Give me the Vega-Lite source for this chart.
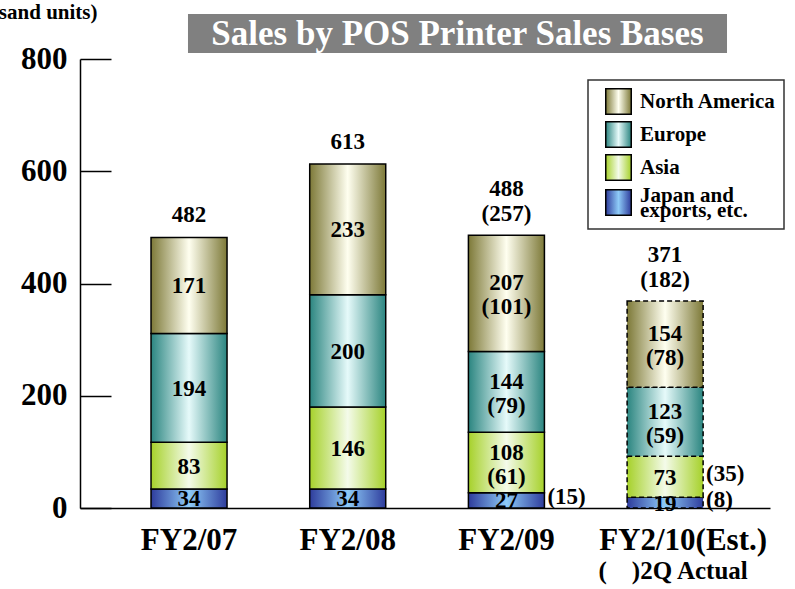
{
  "$schema": "https://vega.github.io/schema/vega-lite/v6.json",
  "width": 690,
  "height": 449,
  "autosize": "none",
  "padding": {"left": 80, "top": 59, "right": 25, "bottom": 81},
  "background": "white",
  "config": {
    "view": {"stroke": null},
    "font": "Liberation Serif",
    "axisY": {
      "titleAngle": 0,
      "titleAlign": "right",
      "titleBaseline": "middle",
      "titleX": 17,
      "titleY": -47,
      "titleFont": "Liberation Serif",
      "titleFontSize": 21,
      "titleFontWeight": "bold",
      "titleColor": "black",
      "labelFont": "Liberation Serif",
      "labelFontSize": 31,
      "labelFontWeight": "bold",
      "labelColor": "black",
      "labelOverlap": false,
      "domainColor": "black",
      "domainWidth": 1.5,
      "tickColor": "black",
      "tickWidth": 1.5,
      "tickSize": -31,
      "labelPadding": 44,
      "grid": false
    }
  },
  "layer": [
    {
      "data": {
        "values": [
          {"year": "FY2/07", "region": "Japan and exports, etc.", "ord": 1, "value": 34, "label": "34", "sub": "", "note": ""},
          {"year": "FY2/07", "region": "Asia", "ord": 2, "value": 83, "label": "83", "sub": "", "note": ""},
          {"year": "FY2/07", "region": "Europe", "ord": 3, "value": 194, "label": "194", "sub": "", "note": ""},
          {"year": "FY2/07", "region": "North America", "ord": 4, "value": 171, "label": "171", "sub": "", "note": ""},
          {"year": "FY2/08", "region": "Japan and exports, etc.", "ord": 1, "value": 34, "label": "34", "sub": "", "note": ""},
          {"year": "FY2/08", "region": "Asia", "ord": 2, "value": 146, "label": "146", "sub": "", "note": ""},
          {"year": "FY2/08", "region": "Europe", "ord": 3, "value": 200, "label": "200", "sub": "", "note": ""},
          {"year": "FY2/08", "region": "North America", "ord": 4, "value": 233, "label": "233", "sub": "", "note": ""},
          {"year": "FY2/09", "region": "Japan and exports, etc.", "ord": 1, "value": 27, "label": "27", "sub": "", "note": "(15)"},
          {"year": "FY2/09", "region": "Asia", "ord": 2, "value": 108, "label": "108", "sub": "(61)", "note": ""},
          {"year": "FY2/09", "region": "Europe", "ord": 3, "value": 144, "label": "144", "sub": "(79)", "note": ""},
          {"year": "FY2/09", "region": "North America", "ord": 4, "value": 207, "label": "207", "sub": "(101)", "note": ""},
          {"year": "FY2/10(Est.)", "region": "Japan and exports, etc.", "ord": 1, "value": 19, "label": "19", "sub": "", "note": "(8)"},
          {"year": "FY2/10(Est.)", "region": "Asia", "ord": 2, "value": 73, "label": "73", "sub": "", "note": "(35)"},
          {"year": "FY2/10(Est.)", "region": "Europe", "ord": 3, "value": 123, "label": "123", "sub": "(59)", "note": ""},
          {"year": "FY2/10(Est.)", "region": "North America", "ord": 4, "value": 154, "label": "154", "sub": "(78)", "note": ""}
        ]
      },
      "encoding": {
        "x": {
          "field": "year",
          "type": "nominal",
          "sort": null,
          "scale": {
            "domain": ["FY2/07", "FY2/08", "FY2/09", "FY2/10(Est.)"],
            "paddingInner": 0.521,
            "paddingOuter": 0.4345,
            "align": 0.515
          },
          "axis": {
            "title": "(　)2Q Actual",
            "titleX": 518,
            "titleY": 62,
            "titleAlign": "left",
            "titleBaseline": "middle",
            "titleFont": "Liberation Serif",
            "titleFontSize": 25,
            "titleFontWeight": "bold",
            "titleColor": "black",
            "labelFont": "Liberation Serif",
            "labelFontSize": 31,
            "labelFontWeight": "bold",
            "labelColor": "black",
            "labelAngle": 0,
            "labelPadding": 17,
            "labelLimit": 0,
            "labelOffset": {"condition": {"test": "datum.value === 'FY2/10(Est.)'", "value": 18}, "value": 0},
            "ticks": false,
            "domainColor": "black",
            "domainWidth": 1.5
          }
        }
      },
      "layer": [
        {
          "mark": {"type": "bar", "stroke": "black", "strokeWidth": 1.5},
          "encoding": {
            "y": {
              "field": "value",
              "type": "quantitative",
              "stack": "zero",
              "scale": {"domain": [0, 800], "nice": false},
              "axis": {"title": "(Thousand units)", "values": [0, 200, 400, 600, 800]}
            },
            "color": {
              "field": "region",
              "type": "nominal",
              "scale": {
                "domain": ["North America", "Europe", "Asia", "Japan and exports, etc."],
                "range": [
                  {"expr": "{gradient: 'linear', x1: 0, y1: 0, x2: 1, y2: 0, stops: [{offset: 0, color: '#7d7938'}, {offset: 0.5, color: '#fffff0'}, {offset: 1, color: '#7d7938'}]}"},
                  {"expr": "{gradient: 'linear', x1: 0, y1: 0, x2: 1, y2: 0, stops: [{offset: 0, color: '#2b8580'}, {offset: 0.5, color: '#e6fafa'}, {offset: 1, color: '#2b8580'}]}"},
                  {"expr": "{gradient: 'linear', x1: 0, y1: 0, x2: 1, y2: 0, stops: [{offset: 0, color: '#a6d12a'}, {offset: 0.5, color: '#f4fbea'}, {offset: 1, color: '#a6d12a'}]}"},
                  {"expr": "{gradient: 'linear', x1: 0, y1: 0, x2: 1, y2: 0, stops: [{offset: 0, color: '#2e3c9c'}, {offset: 0.5, color: '#8ecbf8'}, {offset: 1, color: '#2e3c9c'}]}"}
                ]
              },
              "legend": {
                "orient": "none",
                "legendX": 508,
                "legendY": 21,
                "title": null,
                "fillColor": "white",
                "strokeColor": "#333333",
                "padding": 8,
                "gridAlign": "none",
                "symbolType": "square",
                "symbolSize": 650,
                "symbolStrokeColor": "black",
                "symbolStrokeWidth": 1.5,
                "symbolOffset": 9,
                "labelFont": "Liberation Serif",
                "labelFontWeight": "bold",
                "labelFontSize": 21,
                "labelColor": "black",
                "labelOffset": 8,
                "labelLimit": 300,
                "rowPadding": 0,
                "labelExpr": "datum.label == 'Japan and exports, etc.' ? ['Japan and', 'exports, etc.'] : datum.label",
                "encode": {
                  "labels": {"update": {"lineHeight": {"value": 15}, "dy": {"signal": "datum.value == 'Japan and exports, etc.' ? -7 : 0"}}},
                  "legend": {"update": {"strokeWidth": {"value": 1.5}}}
                }
              }
            },
            "order": {"field": "ord", "type": "quantitative"},
            "strokeDash": {
              "condition": {"test": "datum.year === 'FY2/10(Est.)'", "value": [5, 3]},
              "value": [1, 0]
            }
          }
        },
        {
          "mark": {"type": "text", "font": "Liberation Serif", "fontWeight": "bold", "fontSize": 23, "baseline": "middle", "dy": 1, "color": "black"},
          "encoding": {
            "y": {"field": "value", "type": "quantitative", "stack": "zero", "bandPosition": 0.5, "axis": {"title": "(Thousand units)", "values": [0, 200, 400, 600, 800]}},
            "detail": {"field": "region"},
            "order": {"field": "ord", "type": "quantitative"},
            "text": {"condition": {"test": "datum.sub == ''", "field": "label"}, "value": ""}
          }
        },
        {
          "mark": {"type": "text", "font": "Liberation Serif", "fontWeight": "bold", "fontSize": 23, "baseline": "middle", "dy": -10, "color": "black"},
          "encoding": {
            "y": {"field": "value", "type": "quantitative", "stack": "zero", "bandPosition": 0.5, "axis": {"title": "(Thousand units)", "values": [0, 200, 400, 600, 800]}},
            "detail": {"field": "region"},
            "order": {"field": "ord", "type": "quantitative"},
            "text": {"condition": {"test": "datum.sub != ''", "field": "label"}, "value": ""}
          }
        },
        {
          "mark": {"type": "text", "font": "Liberation Serif", "fontWeight": "bold", "fontSize": 23, "baseline": "middle", "dy": 14, "color": "black"},
          "encoding": {
            "y": {"field": "value", "type": "quantitative", "stack": "zero", "bandPosition": 0.5, "axis": {"title": "(Thousand units)", "values": [0, 200, 400, 600, 800]}},
            "detail": {"field": "region"},
            "order": {"field": "ord", "type": "quantitative"},
            "text": {"field": "sub"}
          }
        },
        {
          "mark": {"type": "text", "font": "Liberation Serif", "fontWeight": "bold", "fontSize": 23, "baseline": "middle", "align": "left", "dx": 3, "dy": -3, "color": "black"},
          "encoding": {
            "x": {"field": "year", "type": "nominal", "sort": null, "bandPosition": 1},
            "y": {"field": "value", "type": "quantitative", "stack": "zero", "bandPosition": 0.5, "axis": {"title": "(Thousand units)", "values": [0, 200, 400, 600, 800]}},
            "detail": {"field": "region"},
            "order": {"field": "ord", "type": "quantitative"},
            "text": {"field": "note"}
          }
        },
        {
          "data": {
            "values": [
              {"year": "FY2/07", "total": 482, "tlabel": "482", "tsub": ""},
              {"year": "FY2/08", "total": 613, "tlabel": "613", "tsub": ""},
              {"year": "FY2/09", "total": 488, "tlabel": "488", "tsub": "(257)"},
              {"year": "FY2/10(Est.)", "total": 371, "tlabel": "371", "tsub": "(182)"}
            ]
          },
          "layer": [
            {
              "transform": [{"filter": "datum.tsub == ''"}],
              "mark": {"type": "text", "font": "Liberation Serif", "fontWeight": "bold", "fontSize": 23, "baseline": "bottom", "dy": -10, "color": "black"},
              "encoding": {
                "y": {"field": "total", "type": "quantitative", "axis": {"title": "(Thousand units)", "values": [0, 200, 400, 600, 800]}},
                "text": {"field": "tlabel"}
              }
            },
            {
              "transform": [{"filter": "datum.tsub != ''"}],
              "mark": {"type": "text", "font": "Liberation Serif", "fontWeight": "bold", "fontSize": 23, "baseline": "bottom", "dy": -33, "color": "black"},
              "encoding": {
                "y": {"field": "total", "type": "quantitative", "axis": {"title": "(Thousand units)", "values": [0, 200, 400, 600, 800]}},
                "text": {"field": "tlabel"}
              }
            },
            {
              "transform": [{"filter": "datum.tsub != ''"}],
              "mark": {"type": "text", "font": "Liberation Serif", "fontWeight": "bold", "fontSize": 23, "baseline": "bottom", "dy": -8, "color": "black"},
              "encoding": {
                "y": {"field": "total", "type": "quantitative", "axis": {"title": "(Thousand units)", "values": [0, 200, 400, 600, 800]}},
                "text": {"field": "tsub"}
              }
            }
          ]
        }
      ]
    },
    {
      "data": {"values": [{"title": "Sales by POS Printer Sales Bases"}]},
      "layer": [
        {
          "mark": {"type": "rect", "color": "#808080"},
          "encoding": {
            "x": {"datum": 0.1565, "type": "quantitative", "scale": {"domain": [0, 1], "nice": false}, "axis": null},
            "x2": {"datum": 0.9377},
            "y": {"datum": 810.7, "type": "quantitative", "scale": {"domain": [0, 800], "nice": false}, "axis": {"title": "(Thousand units)", "values": [0, 200, 400, 600, 800]}},
            "y2": {"datum": 880.2}
          }
        },
        {
          "mark": {"type": "text", "font": "Liberation Serif", "fontWeight": "bold", "fontSize": 35, "color": "white", "baseline": "middle", "align": "center"},
          "encoding": {
            "x": {"datum": 0.5471, "type": "quantitative", "scale": {"domain": [0, 1], "nice": false}, "axis": null},
            "y": {"datum": 845.4, "type": "quantitative", "axis": {"title": "(Thousand units)", "values": [0, 200, 400, 600, 800]}},
            "text": {"field": "title"}
          }
        }
      ]
    }
  ],
  "resolve": {"scale": {"x": "independent"}, "axis": {"x": "independent"}}
}
